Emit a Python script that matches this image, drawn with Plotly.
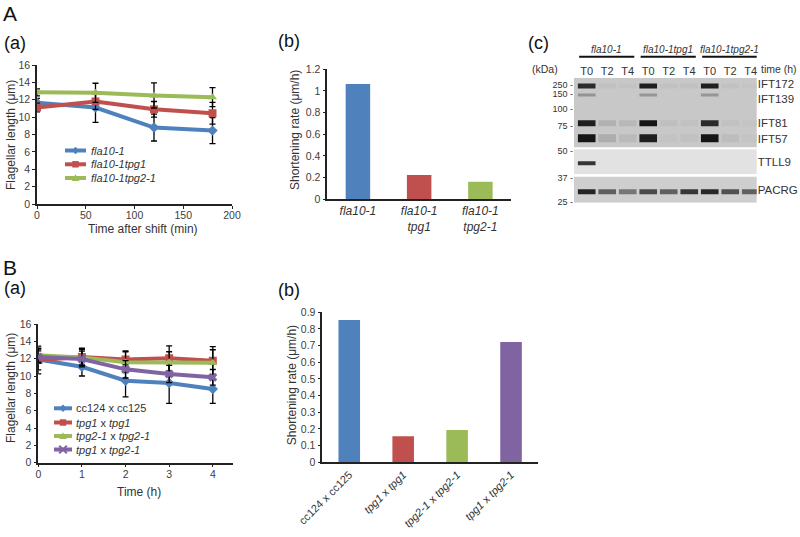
import plotly.graph_objects as go

W, H = 800, 537
FONT = "Liberation Sans, Arial, sans-serif"
TXT = "#333333"

# ---------------- DATA ----------------
# A(a)
a_time = [0, 60, 120, 180]
a_names = ["fla10-1", "fla10-1tpg1", "fla10-1tpg2-1"]
a_fla10 = [11.65, 11.1, 8.8, 8.45]
a_tpg1 = [11.1, 11.8, 10.9, 10.45]
a_tpg2 = [12.85, 12.8, 12.5, 12.3]
a_fla10_err = [0.5, 1.7, 1.55, 1.5]
a_tpg1_err = [0.5, 0.9, 0.9, 1.25]
a_tpg2_err = [0.4, 1.1, 1.45, 1.1]

# A(b)
ab_labels = ["<i>fla10-1</i>", "<i>fla10-1<br>tpg1</i>", "<i>fla10-1<br>tpg2-1</i>"]
ab_rates = [1.065, 0.224, 0.163]

# B(a)
b_time = [0, 1, 2, 3, 4]
b_names = ["cc124 x cc125", "<i>tpg1</i> x <i>tpg1</i>", "<i>tpg2-1</i> x <i>tpg2-1</i>", "<i>tpg1</i> x <i>tpg2-1</i>"]
b_cc = [11.9, 11.07, 9.46, 9.19, 8.5]
b_tpg1 = [11.85, 12.2, 11.9, 12.05, 11.77]
b_tpg2 = [12.4, 12.15, 11.6, 11.6, 11.53]
b_cross = [12.2, 11.96, 10.77, 10.23, 9.85]
b_cc_err = [1.2, 1.07, 1.86, 2.34, 1.65]
b_tpg1_err = [1.6, 1.0, 1.0, 1.43, 1.63]
b_tpg2_err = [0.8, 0.9, 1.2, 1.2, 1.5]
b_cross_err = [0.7, 0.9, 1.0, 1.0, 0.9]

# B(b)
bb_labels = ["cc124 x cc125", "<i>tpg1</i> x <i>tpg1</i>", "<i>tpg2-1</i> x <i>tpg2-1</i>", "<i>tpg1</i> x <i>tpg2-1</i>"]
bb_rates = [0.854, 0.156, 0.194, 0.722]

# (c) western blot: lanes, groups, band intensities (0 = none, 1 = saturated)
lane_labels = ["T0", "T2", "T4", "T0", "T2", "T4", "T0", "T2", "T4"]
group_labels = ["fla10-1", "fla10-1tpg1", "fla10-1tpg2-1"]
proteins = ["IFT172", "IFT139", "IFT81", "IFT57", "TTLL9", "PACRG"]
migration = [8.3, 17.3, 45.6, 60.6, 85.6, 114.0]      # band migration from gel top
band_thick = [5, 3, 6, 8, 4, 5]
int_ift172 = [0.88, 0.04, 0.03, 0.95, 0.04, 0.04, 0.95, 0.04, 0.02]
int_ift139 = [0.3, 0.0, 0.0, 0.28, 0.0, 0.0, 0.28, 0.0, 0.0]
int_ift81 = [0.95, 0.13, 0.09, 1.0, 0.05, 0.04, 0.88, 0.04, 0.02]
int_ift57 = [1.0, 0.15, 0.08, 0.95, 0.03, 0.04, 1.0, 0.06, 0.02]
int_ttll9 = [0.85, 0.0, 0.0, 0.0, 0.0, 0.0, 0.0, 0.0, 0.0]
int_pacrg = [0.92, 0.6, 0.48, 0.72, 0.6, 0.82, 0.9, 0.68, 0.6]
mw_labels = ["250", "150", "100", "75", "50", "37", "25"]
mw_pos = [7.3, 16.3, 31.6, 48.3, 73.3, 100.6, 124.6]

BLUE, RED, GREEN, PURPLE = "#4F81BD", "#C0504D", "#9BBB59", "#8064A2"


def fx(x):
    return x / W


def fy(y):
    return 1 - y / H


fig = go.Figure()

# ---------- A(a) ----------
for y, e, c, s, n in [(a_fla10, a_fla10_err, BLUE, "diamond", a_names[0]),
                      (a_tpg1, a_tpg1_err, RED, "square", a_names[1]),
                      (a_tpg2, a_tpg2_err, GREEN, "triangle-up", a_names[2])]:
    fig.add_trace(go.Scatter(x=a_time, y=y, mode="lines+markers", name=n,
                             line=dict(color=c, width=4),
                             marker=dict(symbol=s, size=8, color=c),
                             error_y=dict(type="data", array=e, color="black", thickness=1.3, width=3),
                             xaxis="x", yaxis="y", showlegend=False))

# ---------- A(b) ----------
fig.add_trace(go.Bar(x=[0, 1, 2], y=ab_rates, marker_color=[BLUE, RED, GREEN], width=0.4,
                     xaxis="x2", yaxis="y2", showlegend=False))

# ---------- B(a) ----------
for y, e, c, s in [(b_cc, b_cc_err, BLUE, "diamond"),
                   (b_tpg1, b_tpg1_err, RED, "square"),
                   (b_tpg2, b_tpg2_err, GREEN, "triangle-up"),
                   (b_cross, b_cross_err, PURPLE, "x")]:
    fig.add_trace(go.Scatter(x=b_time, y=y, mode="lines+markers",
                             line=dict(color=c, width=4),
                             marker=dict(symbol=s, size=8, color=c),
                             error_y=dict(type="data", array=e, color="black", thickness=1.3, width=3),
                             xaxis="x3", yaxis="y3", showlegend=False))

# ---------- B(b) ----------
fig.add_trace(go.Bar(x=[0, 1, 2, 3], y=bb_rates, marker_color=[BLUE, RED, GREEN, PURPLE], width=0.4,
                     xaxis="x4", yaxis="y4", showlegend=False))

# ---------- (c) blot ----------
bg_colors = [(200, 200, 200), (200, 200, 200), (200, 200, 200), (200, 200, 200), (226, 226, 226), (206, 206, 206)]
dark = (22, 22, 22)
intensities = [int_ift172, int_ift139, int_ift81, int_ift57, int_ttll9, int_pacrg]
lanes = list(range(len(lane_labels)))
for pos, th, ints, bg in zip(migration, band_thick, intensities, bg_colors):
    cols = []
    for v in ints:
        r, g, b = [round(bg[k] * (1 - v) + dark[k] * v) for k in range(3)]
        cols.append(f"rgb({r},{g},{b})")
    fig.add_trace(go.Bar(x=lanes, y=[th] * len(lanes), base=[pos - th / 2] * len(lanes),
                         width=0.86, marker=dict(color=cols, line=dict(width=0)),
                         xaxis="x5", yaxis="y5", showlegend=False))
# invisible trace to activate right-side protein label axis
label_pos = [6.6, 21.6, 45.6, 61.3, 84.0, 112.3]
fig.add_trace(go.Scatter(x=[lanes[0]], y=[migration[0]], mode="markers", marker=dict(opacity=0),
                         xaxis="x5", yaxis="y6", showlegend=False, hoverinfo="skip"))

tickfont = dict(family=FONT, size=10.5, color="#404040")
line_ax = dict(showline=True, linecolor="#222222", linewidth=1.5, showgrid=False, zeroline=False,
               tickfont=tickfont, ticks="outside", ticklen=3, tickcolor="#222222", tickwidth=1.2,
               automargin=False)
x_ax = {**line_ax, "ticklabelstandoff": -2}

fig.update_layout(
    template="none",
    width=W, height=H, margin=dict(l=0, r=0, t=0, b=0, autoexpand=False),
    paper_bgcolor="white", plot_bgcolor="rgba(0,0,0,0)", barmode="overlay", showlegend=False,
    font=dict(family=FONT, color=TXT),
    xaxis=dict(domain=[fx(37), fx(232)], range=[0, 200], dtick=50, anchor="y", **x_ax),
    yaxis=dict(domain=[fy(204), fy(65)], range=[0, 16], dtick=2, anchor="x", **line_ax),
    xaxis2=dict(domain=[fx(327.3), fx(511)], range=[-0.5, 2.5], anchor="y2",
                tickvals=[0, 1, 2], ticktext=ab_labels,
                **{**line_ax, "ticks": "", "tickfont": dict(family=FONT, size=12, color=TXT)}),
    yaxis2=dict(domain=[fy(199.3), fy(69.3)], range=[0, 1.2], dtick=0.2, anchor="x2",
                tickformat="~g", **line_ax),
    xaxis3=dict(domain=[fx(38.3), fx(233.3)], range=[0, 4.47], tickvals=b_time, anchor="y3", **x_ax),
    yaxis3=dict(domain=[fy(462.7), fy(324)], range=[0, 16], dtick=2, anchor="x3", **line_ax),
    xaxis4=dict(domain=[fx(322.3), fx(538)], range=[-0.5, 3.5], anchor="y4",
                tickvals=[0, 1, 2, 3], ticktext=bb_labels, tickangle=-45,
                **{**line_ax, "ticks": "", "tickfont": dict(family=FONT, size=11, color=TXT)}),
    yaxis4=dict(domain=[fy(462.3), fy(312.3)], range=[0, 0.9], dtick=0.1, anchor="x4",
                tickformat="~g", **line_ax),
    xaxis5=dict(domain=[fx(574), fx(756.7)], range=[-0.62, 8.29], anchor="y5", side="top",
                tickvals=lanes, ticktext=lane_labels, showline=False, showgrid=False, zeroline=False,
                ticks="", automargin=False, tickfont=dict(family=FONT, size=11, color=TXT)),
    yaxis5=dict(domain=[fy(202.7), fy(77.7)], range=[125, 0], anchor="x5",
                tickvals=mw_pos, ticktext=[m + " -" for m in mw_labels], showline=False,
                showgrid=False, zeroline=False, ticks="", automargin=False,
                tickfont=dict(family=FONT, size=9, color=TXT)),
    yaxis6=dict(overlaying="y5", side="right", anchor="x5", range=[125, 0],
                tickvals=label_pos, ticktext=proteins, showline=False, showgrid=False,
                zeroline=False, ticks="", automargin=False, tickfont=dict(family=FONT, size=11.5, color=TXT)),
)

shapes = []
# gel backgrounds
for y0, y1, c in [(0, 69.6, "rgb(200,200,200)"), (71.6, 96.3, "rgb(226,226,226)"), (99, 125, "rgb(206,206,206)")]:
    shapes.append(dict(type="rect", xref="x5 domain", yref="y5", x0=0, x1=1, y0=y0, y1=y1,
                       fillcolor=c, line=dict(width=0), layer="below"))
# group underline bars
for g in range(len(group_labels)):
    shapes.append(dict(type="line", xref="x5", yref="paper", x0=g * 3 - 0.37, x1=g * 3 + 2.32,
                       y0=fy(56.7), y1=fy(56.7), line=dict(color="#111111", width=2)))

annotations = []


def ann(text, x, y, size, xanchor="center", angle=0, italic=False, color=TXT, yanchor="middle"):
    annotations.append(dict(text=text, x=fx(x), y=fy(y), xref="paper", yref="paper",
                            showarrow=False, xanchor=xanchor, yanchor=yanchor, textangle=angle,
                            font=dict(family=FONT, size=size, color=color,
                                      style="italic" if italic else "normal")))


# panel labels
ann("A", 1, 0, 21, xanchor="left", color="#111111", yanchor="top")
ann("(a)", 2, 42.5, 18, xanchor="left", color="#111111")
ann("(b)", 276, 41.5, 18, xanchor="left", color="#111111")
ann("(c)", 526, 43, 18, xanchor="left", color="#111111")
ann("B", 1, 267, 21, xanchor="left", color="#111111")
ann("(a)", 2, 287.5, 18, xanchor="left", color="#111111")
ann("(b)", 276, 290, 18, xanchor="left", color="#111111")

# axis titles
ann("Flagellar length (μm)", 11, 135, 12, angle=-90)
ann("Time after shift (min)", 143, 229, 12)
ann("Shortening rate (μm/h)", 295, 130, 12, angle=-90)
ann("Flagellar length (μm)", 11.7, 388.3, 12, angle=-90)
ann("Time (h)", 139, 491.7, 12)
ann("Shortening rate (μm/h)", 291.7, 385.5, 12, angle=-90)

# blot texts
ann("(kDa)", 545, 69.3, 10.5)
ann("time (h)", 759, 69.3, 10.5, xanchor="left")
for g, gl in enumerate(group_labels):
    annotations.append(dict(text=gl, x=g * 3 + 0.98, y=fy(49.3), xref="x5", yref="paper", showarrow=False,
                            xanchor="center", yanchor="middle",
                            font=dict(family=FONT, size=10, color=TXT, style="italic")))


# manual legends (line sample + symbol + text)
def sym(symbol, cx, cy, color, r=3.8):
    X = lambda v: fx(v)
    Y = lambda v: fy(v)
    if symbol == "diamond":
        p = f"M{X(cx)},{Y(cy - r)} L{X(cx + r)},{Y(cy)} L{X(cx)},{Y(cy + r)} L{X(cx - r)},{Y(cy)} Z"
        return [dict(type="path", xref="paper", yref="paper", path=p, fillcolor=color, line=dict(width=0))]
    if symbol == "square":
        return [dict(type="rect", xref="paper", yref="paper", x0=X(cx - r * 0.85), x1=X(cx + r * 0.85),
                     y0=Y(cy + r * 0.85), y1=Y(cy - r * 0.85), fillcolor=color, line=dict(width=0))]
    if symbol == "triangle-up":
        p = f"M{X(cx)},{Y(cy - r)} L{X(cx + r)},{Y(cy + r * 0.8)} L{X(cx - r)},{Y(cy + r * 0.8)} Z"
        return [dict(type="path", xref="paper", yref="paper", path=p, fillcolor=color, line=dict(width=0))]
    if symbol == "x":
        return [dict(type="line", xref="paper", yref="paper", x0=X(cx - r), x1=X(cx + r), y0=Y(cy - r), y1=Y(cy + r),
                     line=dict(color=color, width=2)),
                dict(type="line", xref="paper", yref="paper", x0=X(cx - r), x1=X(cx + r), y0=Y(cy + r), y1=Y(cy - r),
                     line=dict(color=color, width=2))]
    return []


def legend(names, colors, symbols, x0, x1, xt, ys, italic):
    for n, c, s, y in zip(names, colors, symbols, ys):
        shapes.append(dict(type="line", xref="paper", yref="paper", x0=fx(x0), x1=fx(x1), y0=fy(y), y1=fy(y),
                           line=dict(color=c, width=4)))
        shapes.extend(sym(s, (x0 + x1) / 2, y, c))
        ann(n, xt, y, 11, xanchor="left", italic=italic)


legend(a_names, [BLUE, RED, GREEN], ["diamond", "square", "triangle-up"], 65, 86, 89, [150.5, 164.3, 178], True)
legend(b_names, [BLUE, RED, GREEN, PURPLE], ["diamond", "square", "triangle-up", "x"], 54, 72, 74,
       [408.3, 422.5, 436, 449.5], False)

fig.update_layout(shapes=shapes, annotations=annotations)
fig.write_html("out.html", config={"displayModeBar": False},
               post_script="document.body.style.margin='0px';")
